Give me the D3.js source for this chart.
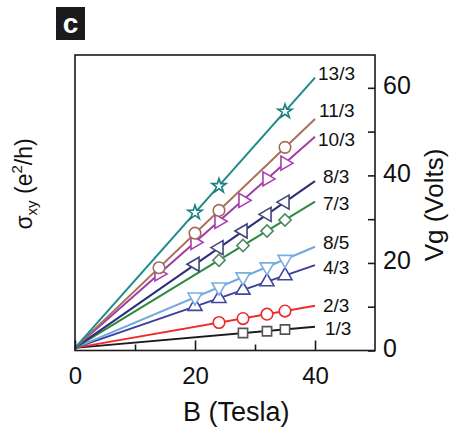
<!DOCTYPE html>
<html>
<head>
<meta charset="utf-8">
<script src="https://cdn.jsdelivr.net/npm/d3@7"></script>
<style>
  html, body { margin: 0; padding: 0; background: #fff; }
  svg { display: block; }
  text { font-family: "Liberation Sans", Arial, Helvetica, sans-serif; fill: #111; }
</style>
</head>
<body>
<svg id="chart" width="453" height="433"></svg>
<script>
// Filling factors of the quantum Hall states, one line per state
const fillingLabels = ["13/3", "11/3", "10/3", "8/3", "7/3", "8/5", "4/3", "2/3", "1/3"];

// Linear fits Vg(B): gate voltage at B = 0 and at B = 40 T
const fitBStart = 0;
const fitBEnd = 40;
const fitVgAtStart = 0.6;
const fitVgAtEnd = [62.35, 52.9, 48.8, 38.7, 34.0, 23.7, 19.5, 10.2, 5.4];

// Measured gap positions (B in Tesla, Vg in Volts)
const markerB = [
  [20, 24, 35],
  [14, 20, 24, 35],
  [14, 20, 24, 28, 32, 35],
  [20, 24, 28, 32, 35],
  [24, 28, 32, 35],
  [20, 24, 28, 32, 35],
  [20, 24, 28, 32, 35],
  [24, 28, 32, 35],
  [28, 32, 35]
];
const markerVg = [
  [31.5, 37.6, 54.6],
  [18.9, 26.8, 32.0, 46.4],
  [17.5, 24.7, 29.5, 34.3, 39.2, 42.8],
  [19.7, 23.5, 27.3, 31.1, 33.9],
  [20.6, 24.0, 27.3, 29.8],
  [12.2, 14.5, 16.8, 19.1, 20.8],
  [10.1, 11.9, 13.8, 15.7, 17.1],
  [6.4, 7.3, 8.3, 9.0],
  [4.0, 4.4, 4.8]
];

// Axis ticks
const bMajorTicks = [0, 20, 40];
const bMinorTicks = [10, 30];
const vgMajorTicks = [0, 20, 40, 60];
const vgMinorTicks = [10, 30, 50];

// Styling
const lineColors = ["#1d8a8a", "#a87058", "#a03ca8", "#2b2e7a", "#2a8a40", "#70a8de", "#3b3f9e", "#ee2a2a", "#1a1a1a"];
const markerColors = ["#1d8080", "#a06a58", "#a83cb0", "#45477a", "#4d8a60", "#78aee2", "#4346a0", "#ee2a2a", "#555555"];
const markerShapes = ["star", "circle", "triRight", "triLeft", "diamond", "triDown", "triUp", "circle", "square"];
const labelDx = [3, 4, 3, 8, 8, 8, 8, 8, 10];
const labelDy = [-5, -9, 2, -5, 1, -5, 2, -1, 1];

const svg = d3.select("#chart");
const plotLeft = 75, plotRight = 375, plotTop = 55, plotBottom = 350.5;

const x = d3.scaleLinear().domain([0, 50]).range([plotLeft, plotRight]);
const y = d3.scaleLinear().domain([0, 67.5]).range([plotBottom, plotTop]);

// Panel tag
svg.append("rect").attr("x", 56).attr("y", 7).attr("width", 29).attr("height", 33).attr("fill", "#1b1b1b");
svg.append("text").attr("x", 70.5).attr("y", 33).attr("text-anchor", "middle")
  .attr("font-size", 28).attr("font-weight", "bold").style("fill", "#fff").text("c");

// Fit lines
const lineGen = d3.line().x(d => x(d[0])).y(d => y(d[1]));
const order = d3.range(fillingLabels.length).reverse();
const gLines = svg.append("g");
order.forEach(i => {
  gLines.append("path")
    .attr("d", lineGen([[fitBStart, fitVgAtStart], [fitBEnd, fitVgAtEnd[i]]]))
    .attr("fill", "none")
    .attr("stroke", lineColors[i])
    .attr("stroke-width", 2);
});

// Markers
const symbolFor = {
  star: { type: d3.symbolStar, size: 62, rot: 0 },
  circle: { type: d3.symbolCircle, size: 105, rot: 0 },
  square: { type: d3.symbolSquare, size: 85, rot: 0 },
  diamond: { type: d3.symbolSquare, size: 75, rot: 45 },
  triUp: { type: d3.symbolTriangle, size: 85, rot: 0 },
  triDown: { type: d3.symbolTriangle, size: 85, rot: 180 },
  triLeft: { type: d3.symbolTriangle, size: 85, rot: -90 },
  triRight: { type: d3.symbolTriangle, size: 85, rot: 90 }
};
const gMarks = svg.append("g");
order.forEach(i => {
  const s = symbolFor[markerShapes[i]];
  const path = d3.symbol().type(s.type).size(s.size)();
  markerB[i].forEach((b, j) => {
    gMarks.append("path")
      .attr("d", path)
      .attr("transform", `translate(${x(b)},${y(markerVg[i][j])}) rotate(${s.rot})`)
      .attr("fill", "#fff")
      .attr("stroke", markerColors[i])
      .attr("stroke-width", 1.6);
  });
});

// Line labels
fillingLabels.forEach((lab, i) => {
  svg.append("text")
    .attr("x", x(fitBEnd) + labelDx[i])
    .attr("y", y(fitVgAtEnd[i]) + labelDy[i] + 7)
    .attr("font-size", 19)
    .text(lab);
});

// Frame
svg.append("rect")
  .attr("x", plotLeft).attr("y", plotTop)
  .attr("width", plotRight - plotLeft).attr("height", plotBottom - plotTop)
  .attr("fill", "none").attr("stroke", "#1a1a1a").attr("stroke-width", 1.6);

// Bottom axis (B)
const gxMajor = svg.append("g").attr("transform", `translate(0,${plotBottom})`)
  .call(d3.axisBottom(x).tickValues(bMajorTicks).tickSize(-10).tickFormat(d3.format("d")));
const gxMinor = svg.append("g").attr("transform", `translate(0,${plotBottom})`)
  .call(d3.axisBottom(x).tickValues(bMinorTicks).tickSize(-6).tickFormat(""));
[gxMajor, gxMinor].forEach(g => {
  g.select(".domain").remove();
  g.selectAll(".tick line").attr("stroke", "#1a1a1a").attr("stroke-width", 1.6);
});
gxMajor.selectAll(".tick text")
  .attr("y", 33).attr("dy", null)
  .attr("font-size", 24).attr("font-family", null).style("fill", "#111");

// Right axis (Vg)
const gyMajor = svg.append("g").attr("transform", `translate(${plotRight},0)`)
  .call(d3.axisRight(y).tickValues(vgMajorTicks).tickSize(-7).tickFormat(d3.format("d")));
const gyMinor = svg.append("g").attr("transform", `translate(${plotRight},0)`)
  .call(d3.axisRight(y).tickValues(vgMinorTicks).tickSize(-7).tickFormat(""));
[gyMajor, gyMinor].forEach(g => {
  g.select(".domain").remove();
  g.selectAll(".tick line").attr("stroke", "#1a1a1a").attr("stroke-width", 1.6);
});
gyMajor.selectAll(".tick text")
  .attr("x", 8).attr("dy", null).attr("y", 6)
  .attr("font-size", 25).attr("font-family", null).style("fill", "#111");

// Axis titles
svg.append("text")
  .attr("x", 183).attr("y", 421)
  .attr("font-size", 27)
  .text("B (Tesla)");

svg.append("text")
  .attr("transform", "translate(443,205) rotate(-90)")
  .attr("text-anchor", "middle")
  .attr("font-size", 26)
  .text("Vg (Volts)");

const sig = svg.append("text")
  .attr("transform", "translate(32,184) rotate(-90)")
  .attr("text-anchor", "middle")
  .attr("font-size", 23);
sig.append("tspan").text("σ");
sig.append("tspan").attr("font-size", 15).attr("dy", 5).text("xy");
sig.append("tspan").attr("dy", -5).text(" (e");
sig.append("tspan").attr("font-size", 15).attr("dy", -10).text("2");
sig.append("tspan").attr("dy", 10).text("/h)");
</script>
</body>
</html>
